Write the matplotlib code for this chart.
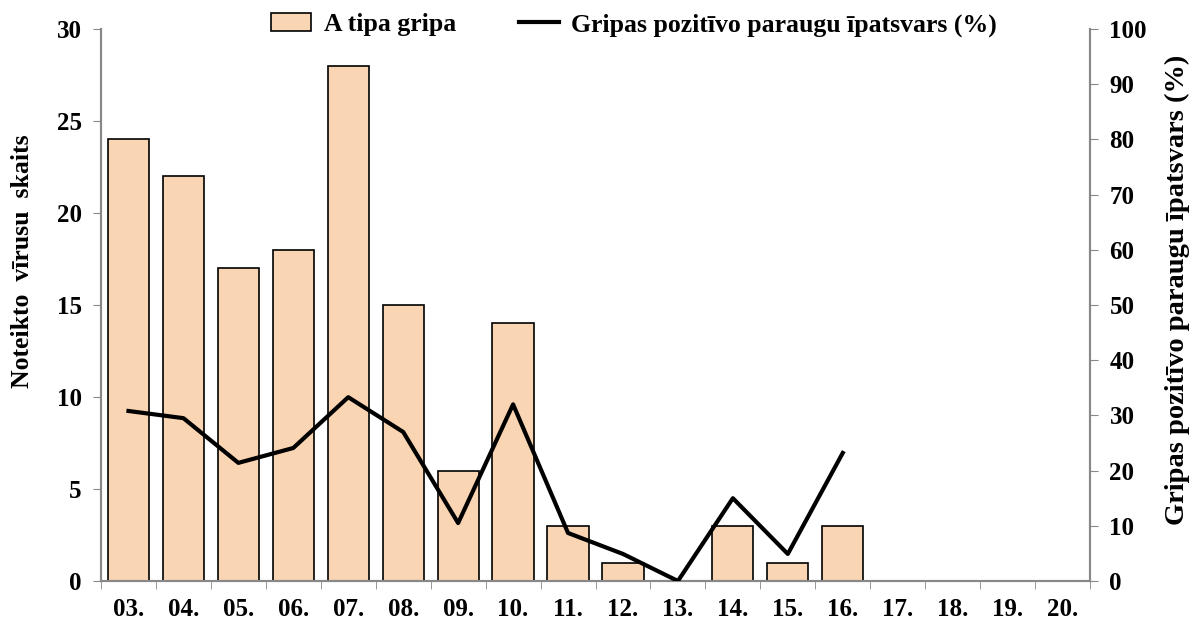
import numpy as np
import matplotlib.pyplot as plt

weeks = ["03.", "04.", "05.", "06.", "07.", "08.", "09.", "10.", "11.", "12.",
         "13.", "14.", "15.", "16.", "17.", "18.", "19.", "20."]
flu_a = [24, 22, 17, 18, 28, 15, 6, 14, 3, 1, 0, 3, 1, 3]
positive_pct = [30.8, 29.5, 21.4, 24.1, 33.3, 27.0, 10.5, 32.0, 8.7, 4.9, 0.0, 15.0, 4.9, 23.2]

plt.rcParams['font.family'] = ['Liberation Serif', 'DejaVu Serif']
plt.rcParams['font.weight'] = 'bold'
plt.rcParams['font.size'] = 18

fig = plt.figure(figsize=(11.97, 6.24), dpi=100)
ax = fig.add_axes([101 / 1197, 1 - 581 / 624, 989 / 1197, 552 / 624])
ax2 = ax.twinx()

x = np.arange(len(weeks))
bars = ax.bar(x[:len(flu_a)], flu_a, width=0.75, color='#FAD5B3',
              edgecolor='black', linewidth=1.2, label='A tipa gripa', zorder=2)
line, = ax2.plot(x[:len(positive_pct)], positive_pct, color='black', lw=3,
                 label='Gripas pozitīvo paraugu īpatsvars (%)', zorder=3)

ax.set_xlim(-0.5, len(weeks) - 0.5)
ax.set_ylim(0, 30)
ax.set_yticks(range(0, 31, 5))
ax2.set_ylim(0, 100)
ax2.set_yticks(range(0, 101, 10))

ax.set_xticks(x)
ax.set_xticklabels(weeks, fontweight='bold')
ax.set_xticks(np.arange(-0.5, len(weeks)), minor=True)
ax.tick_params(axis='x', which='major', length=0, pad=12)
ax.tick_params(axis='x', which='minor', length=6, color='#888888', direction='out')
ax.tick_params(axis='y', length=6, color='#888888', direction='out', pad=8)
ax2.tick_params(axis='y', length=6, color='#888888', direction='out', pad=8)

for a in (ax, ax2):
    a.spines['top'].set_visible(False)
    for s in ('left', 'right', 'bottom'):
        a.spines[s].set_color('#888888')
        a.spines[s].set_linewidth(1.5)
    for lab in a.get_yticklabels():
        lab.set_fontweight('bold')
ax.set_zorder(0)
ax2.set_zorder(1)
ax2.patch.set_visible(False)

ax.set_ylabel("Noteikto  vīrusu  skaits", fontweight='bold', fontsize=18.5)
ax.yaxis.set_label_coords(-0.068, 0.58)
ax2.set_ylabel("Gripas pozitīvo paraugu īpatsvars (%)", fontweight='bold',
               fontsize=20.5, rotation=90)
ax2.yaxis.set_label_coords(1.076, 0.527)

fig.legend([bars, line], ['A tipa gripa', 'Gripas pozitīvo paraugu īpatsvars (%)'],
           loc='center', bbox_to_anchor=(634 / 1197, 1 - 25 / 624), ncol=2,
           frameon=False, handlelength=1.55, handletextpad=0.5, columnspacing=2.45,
           prop={'weight': 'bold', 'size': 18.5})

fig.savefig('out.png', dpi=100)
